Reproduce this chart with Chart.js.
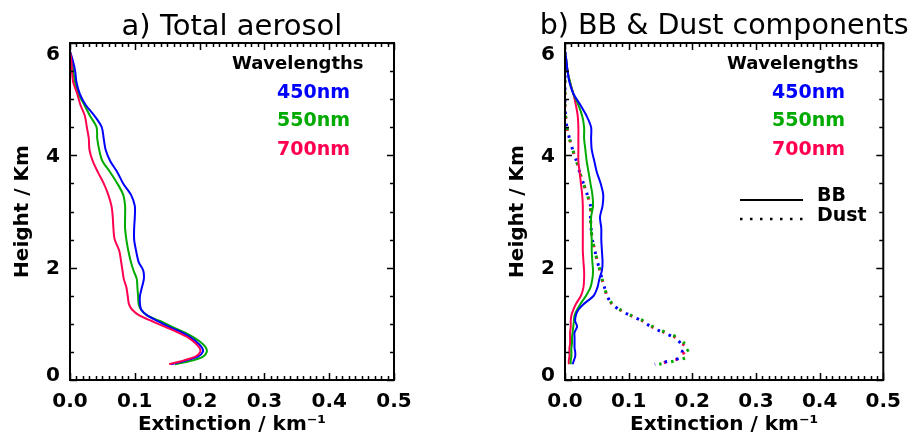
<!DOCTYPE html>
<html>
<head>
<meta charset="utf-8">
<script src="https://cdn.jsdelivr.net/npm/chart.js@4"></script>
<style>
html,body{margin:0;padding:0;background:#fff;}
#wrap{position:relative;width:911px;height:439px;}
canvas{position:absolute;top:0;}
#ca{left:0;}
#cb{left:455px;}
</style>
</head>
<body>
<div id="wrap">
<canvas id="ca" width="455" height="439"></canvas>
<canvas id="cb" width="456" height="439"></canvas>
</div>
<script>
// ---- data (heights in km, extinction in km^-1) ----
const heights = [0.28,0.35,0.42,0.50,0.57,0.65,0.75,0.85,0.95,1.05,1.15,1.25,1.35,1.50,1.65,1.80,1.95,2.10,2.30,2.50,2.70,2.90,3.10,3.30,3.50,3.70,3.90,4.10,4.30,4.50,4.70,4.90,5.10,5.30,5.50,5.70,5.85];

const total450 = [0.156,0.180,0.198,0.205,0.204,0.198,0.187,0.172,0.152,0.135,0.119,0.110,0.108,0.108,0.111,0.114,0.113,0.106,0.102,0.099,0.099,0.100,0.100,0.094,0.082,0.073,0.062,0.055,0.052,0.049,0.038,0.024,0.015,0.010,0.008,0.004,0.000];
const total550 = [0.162,0.190,0.206,0.211,0.210,0.204,0.192,0.176,0.157,0.139,0.119,0.110,0.106,0.105,0.104,0.103,0.098,0.094,0.090,0.087,0.085,0.085,0.085,0.082,0.073,0.062,0.050,0.045,0.042,0.041,0.031,0.022,0.013,0.008,0.005,0.003,0.000];
const total700 = [0.153,0.176,0.194,0.201,0.200,0.194,0.183,0.166,0.146,0.126,0.107,0.096,0.091,0.089,0.087,0.083,0.081,0.079,0.076,0.069,0.067,0.066,0.064,0.059,0.052,0.043,0.035,0.030,0.029,0.026,0.023,0.016,0.011,0.005,0.003,0.002,0.000];

const bb450 = [0.012,0.014,0.016,0.016,0.015,0.015,0.015,0.015,0.019,0.016,0.017,0.021,0.029,0.045,0.051,0.054,0.058,0.059,0.058,0.057,0.057,0.055,0.059,0.060,0.056,0.050,0.046,0.042,0.041,0.041,0.034,0.024,0.013,0.007,0.004,0.002,0.000];
const bb550 = [0.009,0.009,0.010,0.010,0.010,0.011,0.011,0.012,0.013,0.014,0.015,0.019,0.024,0.033,0.040,0.043,0.044,0.043,0.042,0.042,0.041,0.041,0.044,0.043,0.040,0.037,0.034,0.032,0.030,0.030,0.027,0.021,0.013,0.008,0.004,0.002,0.000];
const bb700 = [0.006,0.006,0.007,0.007,0.007,0.008,0.008,0.008,0.009,0.009,0.010,0.013,0.017,0.025,0.029,0.030,0.030,0.029,0.028,0.028,0.028,0.028,0.028,0.027,0.025,0.023,0.021,0.021,0.021,0.021,0.020,0.017,0.013,0.008,0.004,0.002,0.000];

const dust450 = [0.141,0.168,0.186,0.184,0.188,0.182,0.173,0.153,0.135,0.121,0.102,0.086,0.074,0.066,0.062,0.058,0.055,0.051,0.047,0.043,0.041,0.040,0.040,0.035,0.029,0.023,0.018,0.012,0.007,0.003,0.001,0.000,0.000,0.000,0.000,0.000,0.000];
const dust550 = [0.148,0.176,0.193,0.190,0.197,0.188,0.178,0.158,0.138,0.124,0.104,0.087,0.075,0.066,0.062,0.058,0.055,0.051,0.047,0.043,0.041,0.040,0.040,0.035,0.029,0.023,0.018,0.012,0.007,0.003,0.001,0.000,0.000,0.000,0.000,0.000,0.000];
const dust700 = [0.143,0.170,0.188,0.186,0.192,0.184,0.175,0.155,0.136,0.122,0.103,0.086,0.074,0.066,0.062,0.058,0.055,0.051,0.047,0.043,0.041,0.040,0.040,0.035,0.029,0.023,0.018,0.012,0.007,0.003,0.001,0.000,0.000,0.000,0.000,0.000,0.000];

const wavelengthLabels = ['450nm','550nm','700nm'];
const xTickValues = [0.0,0.1,0.2,0.3,0.4,0.5];
const yTickValues = [0,2,4,6];
const panelTitles = ['a) Total aerosol','b) BB & Dust components'];

// ---- styles ----
const COLORS = ['#0000ff','#00aa00','#ff0050'];
const FONT = 'DejaVu Sans';

function pts(xs){ return xs.map((x,i)=>({x:x, y:heights[i]})); }

function solid(xs, c){
  return {data:pts(xs), borderColor:c, borderWidth:2, pointRadius:0, showLine:true, fill:false, tension:0.3};
}
function dotted(xs, c, off){
  return {data:pts(xs), borderColor:c, borderWidth:3, pointRadius:0, showLine:true, fill:false, tension:0.3,
          borderDash:[2.5,9.5], borderDashOffset:off, borderCapStyle:'butt'};
}

const framePlugin = {
  id:'frame',
  afterDraw(chart, args, opts){
    const ctx = chart.ctx, a = chart.chartArea;
    const xs = chart.scales.x, ys = chart.scales.y;
    ctx.save();
    ctx.strokeStyle = '#000';
    ctx.lineWidth = 2;
    ctx.strokeRect(a.left, a.top, a.right - a.left, a.bottom - a.top);
    ctx.lineWidth = 1.5;
    ctx.beginPath();
    for (let i = 0; i <= 50; i++){
      const v = i / 100;
      const px = Math.round(xs.getPixelForValue(v)) + 0.5;
      const len = (i % 10 === 0) ? 7 : 4;
      ctx.moveTo(px, a.bottom); ctx.lineTo(px, a.bottom - len);
      ctx.moveTo(px, a.top); ctx.lineTo(px, a.top + len);
    }
    for (let i = 0; i <= 12; i++){
      const v = i / 2;
      const py = Math.round(ys.getPixelForValue(v)) + 0.5;
      const len = (i % 4 === 0) ? 7 : 4;
      ctx.moveTo(a.left, py); ctx.lineTo(a.left + len, py);
      ctx.moveTo(a.right, py); ctx.lineTo(a.right - len, py);
    }
    ctx.stroke();

    // y tick labels (nudged inside the frame at the ends, as in the original)
    ctx.fillStyle = '#000';
    ctx.font = 'bold 20px "' + FONT + '"';
    ctx.textAlign = 'right';
    ctx.textBaseline = 'middle';
    yTickValues.forEach(v => {
      let py = ys.getPixelForValue(v);
      py = Math.min(Math.max(py, a.top + 11), a.bottom - 5);
      ctx.fillText(String(v), a.left - 10, py + 1);
    });

    // title
    ctx.font = opts.titleSize + 'px "' + FONT + '"';
    ctx.textAlign = 'center';
    ctx.fillText(opts.title, (a.left + a.right) / 2, 27);

    // wavelength legend
    ctx.textAlign = 'left';
    ctx.font = 'bold 18px "' + FONT + '"';
    ctx.fillText('Wavelengths', a.left + 162, 64);
    ctx.font = 'bold 19px "' + FONT + '"';
    const ly = [93, 121, 150];
    wavelengthLabels.forEach((t, i) => {
      ctx.fillStyle = COLORS[i];
      ctx.fillText(t, a.left + 207, ly[i]);
    });

    if (opts.lineKey){
      ctx.fillStyle = '#000';
      ctx.strokeStyle = '#000';
      ctx.lineWidth = 2;
      ctx.beginPath();
      ctx.moveTo(a.left + 175, 200); ctx.lineTo(a.left + 238, 200);
      ctx.stroke();
      ctx.setLineDash([2.5, 7.5]);
      ctx.lineWidth = 2.5;
      ctx.beginPath();
      ctx.moveTo(a.left + 175, 219); ctx.lineTo(a.left + 238, 219);
      ctx.stroke();
      ctx.setLineDash([]);
      ctx.font = 'bold 19px "' + FONT + '"';
      ctx.fillText('BB', a.left + 252, 196);
      ctx.fillText('Dust', a.left + 252, 216);
    }
    ctx.restore();
  }
};

function makeOptions(title, titleSize, yAxisWidth, yTitlePad, rightPad, lineKey){
  return {
    responsive:false,
    animation:false,
    layout:{padding:{left:0, right:rightPad, top:43, bottom:0}},
    plugins:{legend:{display:false}, tooltip:{enabled:false}, frame:{title:title, titleSize:titleSize, lineKey:lineKey}},
    scales:{
      x:{
        type:'linear', min:0, max:0.5,
        grid:{display:false, drawTicks:false}, border:{display:false},
        afterBuildTicks(s){ s.ticks = xTickValues.map(v => ({value:v})); },
        ticks:{callback:v => Number(v).toFixed(1), color:'#000', padding:10, maxRotation:0, autoSkip:false,
               font:{family:FONT, size:20, weight:'bold'}},
        title:{display:true, text:'Extinction / km⁻¹', color:'#000', padding:{top:0, bottom:2},
               font:{family:FONT, size:20, weight:'bold'}},
        afterFit(s){ s.height = 59; }
      },
      y:{
        type:'linear', min:0, max:6,
        grid:{display:false, drawTicks:false}, border:{display:false},
        ticks:{display:false},
        title:{display:true, text:'Height / Km', color:'#000', padding:{top:yTitlePad, bottom:0},
               font:{family:FONT, size:20, weight:'bold'}},
        afterFit(s){ s.width = yAxisWidth; }
      }
    }
  };
}

new Chart(document.getElementById('ca'), {
  type:'scatter',
  data:{datasets:[
    solid(total700, COLORS[2]),
    solid(total450, COLORS[0]),
    solid(total550, COLORS[1])
  ]},
  options:makeOptions(panelTitles[0], 29, 70, 11, 61, false),
  plugins:[framePlugin]
});

new Chart(document.getElementById('cb'), {
  type:'scatter',
  data:{datasets:[
    solid(bb450, COLORS[0]),
    solid(bb550, COLORS[1]),
    solid(bb700, COLORS[2]),
    dotted(dust550, COLORS[1], 0),
    dotted(dust450, COLORS[0], 2),
    dotted(dust700, COLORS[2], 4)
  ]},
  options:makeOptions(panelTitles[1], 28.5, 110, 51, 23, true),
  plugins:[framePlugin]
});
</script>
</body>
</html>
